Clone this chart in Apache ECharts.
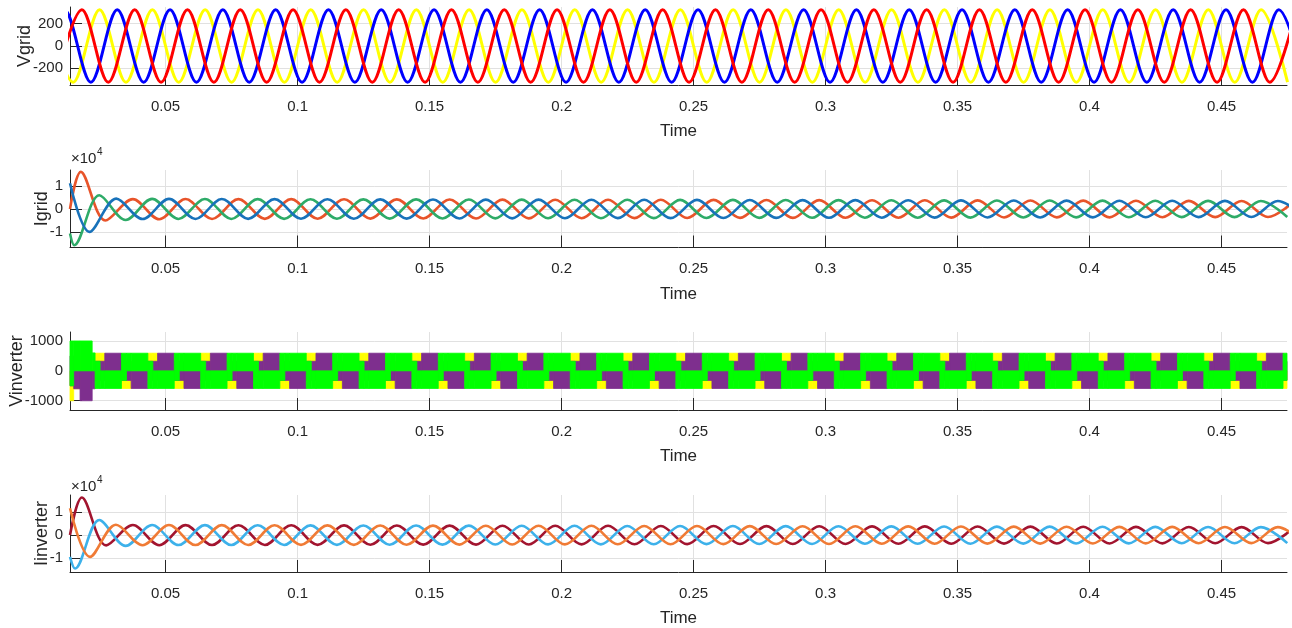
<!DOCTYPE html>
<html><head><meta charset="utf-8">
<script src="https://cdn.jsdelivr.net/npm/echarts@6.0.0/dist/echarts.min.js"></script>
<style>html,body{margin:0;padding:0;background:#fff;}#chart{width:1292px;height:628px;}</style>
</head><body><div id="chart"></div>
<script>
// ---------- axes ----------
const timeRange = [0.0138, 0.4748];
const timeTicks = [0.05,0.1,0.15,0.2,0.25,0.3,0.35,0.4,0.45];
const timeTickLabels = ['0.05','0.1','0.15','0.2','0.25','0.3','0.35','0.4','0.45'];
const panelNames = ['Vgrid','Igrid','Vinverter','Iinverter'];
const yRanges = [[-350,350],[-16800,17000],[-1310,1300],[-16100,17500]];
const yTicks = [[-200,0,200],[-10000,0,10000],[-1000,0,1000],[-10000,0,10000]];
const yTickLabels = [['-200','0','200'],['-1','0','1'],['-1000','0','1000'],['-1','0','1']];
const expLabel = '\u00d710';
const expPower = '4';

// ---------- Vgrid (extrema of each phase) ----------
const vgridYellowT = [0.005,0.015,0.025,0.035,0.045,0.055,0.065,0.075,0.085,0.095,
0.105,0.115,0.125,0.135,0.145,0.155,0.165,0.175,0.185,0.195,
0.205,0.215,0.225,0.235,0.245,0.255,0.265,0.275,0.285,0.295,
0.305,0.315,0.325,0.335,0.345,0.355,0.365,0.375,0.385,0.395,
0.405,0.415,0.425,0.435,0.445,0.455,0.465,0.475];
const vgridYellowV = [325,-325,325,-325,325,-325,325,-325,325,-325,
325,-325,325,-325,325,-325,325,-325,325,-325,
325,-325,325,-325,325,-325,325,-325,325,-325,
325,-325,325,-325,325,-325,325,-325,325,-325,
325,-325,325,-325,325,-325,325,-325];
const vgridBlueT = [0.0017,0.0117,0.0217,0.0317,0.0417,0.0517,0.0617,0.0717,0.0817,0.0917,
0.1017,0.1117,0.1217,0.1317,0.1417,0.1517,0.1617,0.1717,0.1817,0.1917,
0.2017,0.2117,0.2217,0.2317,0.2417,0.2517,0.2617,0.2717,0.2817,0.2917,
0.3017,0.3117,0.3217,0.3317,0.3417,0.3517,0.3617,0.3717,0.3817,0.3917,
0.4017,0.4117,0.4217,0.4317,0.4417,0.4517,0.4617,0.4717,0.4817];
const vgridBlueV = [-325,325,-325,325,-325,325,-325,325,-325,325,
-325,325,-325,325,-325,325,-325,325,-325,325,
-325,325,-325,325,-325,325,-325,325,-325,325,
-325,325,-325,325,-325,325,-325,325,-325,325,
-325,325,-325,325,-325,325,-325,325,-325];
const vgridRedT = [0.0083,0.0183,0.0283,0.0383,0.0483,0.0583,0.0683,0.0783,0.0883,0.0983,
0.1083,0.1183,0.1283,0.1383,0.1483,0.1583,0.1683,0.1783,0.1883,0.1983,
0.2083,0.2183,0.2283,0.2383,0.2483,0.2583,0.2683,0.2783,0.2883,0.2983,
0.3083,0.3183,0.3283,0.3383,0.3483,0.3583,0.3683,0.3783,0.3883,0.3983,
0.4083,0.4183,0.4283,0.4383,0.4483,0.4583,0.4683,0.4783];
const vgridRedV = [-325,325,-325,325,-325,325,-325,325,-325,325,
-325,325,-325,325,-325,325,-325,325,-325,325,
-325,325,-325,325,-325,325,-325,325,-325,325,
-325,325,-325,325,-325,325,-325,325,-325,325,
-325,325,-325,325,-325,325,-325,325];

// ---------- Igrid (start, transient extrema, slowly shrinking steady extrema) ----------
const igridRedT = [0.0138,0.0179,0.0272,0.0376,0.0476,0.0576,0.0676,0.0776,0.0876,0.0976,
0.1076,0.1176,0.1276,0.1376,0.1476,0.1576,0.1676,0.1776,0.1876,0.1976,
0.2076,0.2176,0.2276,0.2376,0.2476,0.2576,0.2676,0.2776,0.2876,0.2976,
0.3076,0.3176,0.3276,0.3376,0.3476,0.3576,0.3676,0.3776,0.3876,0.3976,
0.4076,0.4176,0.4276,0.4376,0.4476,0.4576,0.4676,0.4776];
const igridRedV = [0,16200,-5000,4300,-4500,4350,-4350,4300,-4300,4300,
-4250,4250,-4200,4200,-4150,4150,-4150,4100,-4100,4050,
-4050,4050,-4000,4000,-3950,3950,-3900,3900,-3900,3850,
-3850,3800,-3800,3800,-3750,3750,-3700,3700,-3650,3650,
-3650,3600,-3600,3550,-3550,3500,-3500,3500];
const igridBlueT = [0.0138,0.0212,0.0313,0.0413,0.0513,0.0613,0.0713,0.0813,0.0913,0.1013,
0.1113,0.1213,0.1313,0.1413,0.1513,0.1613,0.1713,0.1813,0.1913,0.2013,
0.2113,0.2213,0.2313,0.2413,0.2513,0.2613,0.2713,0.2813,0.2913,0.3013,
0.3113,0.3213,0.3313,0.3413,0.3513,0.3613,0.3713,0.3813,0.3913,0.4013,
0.4113,0.4213,0.4313,0.4413,0.4513,0.4613,0.4713,0.4813];
const igridBlueV = [11200,-10000,4500,-4400,4400,-4350,4350,-4300,4300,-4250,
4250,-4250,4200,-4200,4150,-4150,4100,-4100,4100,-4050,
4050,-4000,4000,-4000,3950,-3950,3900,-3900,3850,-3850,
3850,-3800,3800,-3750,3750,-3700,3700,-3700,3650,-3650,
3600,-3600,3600,-3550,3550,-3500,3500,-3450];
const igridGreenT = [0.0138,0.0154,0.0249,0.0349,0.0449,0.0549,0.0649,0.0749,0.0849,0.0949,
0.1049,0.1149,0.1249,0.1349,0.1449,0.1549,0.1649,0.1749,0.1849,0.1949,
0.2049,0.2149,0.2249,0.2349,0.2449,0.2549,0.2649,0.2749,0.2849,0.2949,
0.3049,0.3149,0.3249,0.3349,0.3449,0.3549,0.3649,0.3749,0.3849,0.3949,
0.4049,0.4149,0.4249,0.4349,0.4449,0.4549,0.4649,0.4749];
const igridGreenV = [-10700,-15800,6000,-4800,4400,-4350,4350,-4350,4300,-4300,
4250,-4250,4200,-4200,4200,-4150,4150,-4100,4100,-4050,
4050,-4050,4000,-4000,3950,-3950,3950,-3900,3900,-3850,
3850,-3800,3800,-3800,3750,-3750,3700,-3700,3700,-3650,
3650,-3600,3600,-3550,3550,-3550,3500,-3500];

// ---------- Iinverter ----------
const iinvDarkRedT = [0.0138,0.0183,0.0275,0.0376,0.0476,0.0576,0.0676,0.0776,0.0876,0.0976,
0.1076,0.1176,0.1276,0.1376,0.1476,0.1576,0.1676,0.1776,0.1876,0.1976,
0.2076,0.2176,0.2276,0.2376,0.2476,0.2576,0.2676,0.2776,0.2876,0.2976,
0.3076,0.3176,0.3276,0.3376,0.3476,0.3576,0.3676,0.3776,0.3876,0.3976,
0.4076,0.4176,0.4276,0.4376,0.4476,0.4576,0.4676,0.4776];
const iinvDarkRedV = [0,16400,-4500,4400,-4400,4350,-4350,4300,-4300,4300,
-4250,4250,-4200,4200,-4150,4150,-4150,4100,-4100,4050,
-4050,4050,-4000,4000,-3950,3950,-3900,3900,-3900,3850,
-3850,3800,-3800,3800,-3750,3750,-3700,3700,-3650,3650,
-3650,3600,-3600,3550,-3550,3500,-3500,3500];
const iinvOrangeT = [0.0138,0.0214,0.0312,0.0413,0.0513,0.0613,0.0713,0.0813,0.0913,0.1013,
0.1113,0.1213,0.1313,0.1413,0.1513,0.1613,0.1713,0.1813,0.1913,0.2013,
0.2113,0.2213,0.2313,0.2413,0.2513,0.2613,0.2713,0.2813,0.2913,0.3013,
0.3113,0.3213,0.3313,0.3413,0.3513,0.3613,0.3713,0.3813,0.3913,0.4013,
0.4113,0.4213,0.4313,0.4413,0.4513,0.4613,0.4713,0.4813];
const iinvOrangeV = [11700,-9500,4500,-4400,4400,-4350,4350,-4300,4300,-4250,
4250,-4250,4200,-4200,4150,-4150,4100,-4100,4100,-4050,
4050,-4000,4000,-4000,3950,-3950,3900,-3900,3850,-3850,
3850,-3800,3800,-3750,3750,-3700,3700,-3700,3650,-3650,
3600,-3600,3600,-3550,3550,-3500,3500,-3450];
const iinvLightBlueT = [0.0138,0.0157,0.0249,0.0349,0.0449,0.0549,0.0649,0.0749,0.0849,0.0949,
0.1049,0.1149,0.1249,0.1349,0.1449,0.1549,0.1649,0.1749,0.1849,0.1949,
0.2049,0.2149,0.2249,0.2349,0.2449,0.2549,0.2649,0.2749,0.2849,0.2949,
0.3049,0.3149,0.3249,0.3349,0.3449,0.3549,0.3649,0.3749,0.3849,0.3949,
0.4049,0.4149,0.4249,0.4349,0.4449,0.4549,0.4649,0.4749];
const iinvLightBlueV = [-9500,-14600,6600,-4700,4400,-4350,4350,-4350,4300,-4300,
4250,-4250,4200,-4200,4200,-4150,4150,-4100,4100,-4050,
4050,-4050,4000,-4000,3950,-3950,3950,-3900,3900,-3850,
3850,-3800,3800,-3800,3750,-3750,3700,-3700,3700,-3650,
3650,-3600,3600,-3550,3550,-3550,3500,-3500];

// ---------- Vinverter: switching band (lo..hi) of each phase between pattern boundaries ----------
const vinvT = [0.0138,0.0152,0.0176,0.0222,
0.0233,0.0252,0.02697,0.0333,0.0352,0.03697, 0.0433,0.0452,0.04697,0.0533,0.0552,0.05697,
0.0633,0.0652,0.06697,0.0733,0.0752,0.07697, 0.0833,0.0852,0.08697,0.0933,0.0952,0.09697,
0.1033,0.1052,0.10697,0.1133,0.1152,0.11697, 0.1233,0.1252,0.12697,0.1333,0.1352,0.13697,
0.1433,0.1452,0.14697,0.1533,0.1552,0.15697, 0.1633,0.1652,0.16697,0.1733,0.1752,0.17697,
0.1833,0.1852,0.18697,0.1933,0.1952,0.19697, 0.2033,0.2052,0.20697,0.2133,0.2152,0.21697,
0.2233,0.2252,0.22697,0.2333,0.2352,0.23697, 0.2433,0.2452,0.24697,0.2533,0.2552,0.25697,
0.2633,0.2652,0.26697,0.2733,0.2752,0.27697, 0.2833,0.2852,0.28697,0.2933,0.2952,0.29697,
0.3033,0.3052,0.30697,0.3133,0.3152,0.31697, 0.3233,0.3252,0.32697,0.3333,0.3352,0.33697,
0.3433,0.3452,0.34697,0.3533,0.3552,0.35697, 0.3633,0.3652,0.36697,0.3733,0.3752,0.37697,
0.3833,0.3852,0.38697,0.3933,0.3952,0.39697, 0.4033,0.4052,0.40697,0.4133,0.4152,0.41697,
0.4233,0.4252,0.42697,0.4333,0.4352,0.43697, 0.4433,0.4452,0.44697,0.4533,0.4552,0.45697,
0.4633,0.4652,0.46697,0.4733,0.4748];
const vinvYellowHi = [0,0,500,320,
590,590,320,0,0,320, 590,590,320,0,0,320, 590,590,320,0,0,320, 590,590,320,0,0,320,
590,590,320,0,0,320, 590,590,320,0,0,320, 590,590,320,0,0,320, 590,590,320,0,0,320,
590,590,320,0,0,320, 590,590,320,0,0,320, 590,590,320,0,0,320, 590,590,320,0,0,320,
590,590,320,0,0,320, 590,590,320,0,0,320, 590,590,320,0,0,320, 590,590,320,0,0,320,
590,590,320,0,0,320, 590,590,320,0,0,320, 590,590,320,0,0,320, 590,590,320,0,0,320,
590,590,320,0,0,320, 590,590,320,0,0,320,
590,590,320,0];
const vinvYellowLo = [-1000,-600,-500,-320,
0,0,-320,-590,-590,-320, 0,0,-320,-590,-590,-320, 0,0,-320,-590,-590,-320, 0,0,-320,-590,-590,-320,
0,0,-320,-590,-590,-320, 0,0,-320,-590,-590,-320, 0,0,-320,-590,-590,-320, 0,0,-320,-590,-590,-320,
0,0,-320,-590,-590,-320, 0,0,-320,-590,-590,-320, 0,0,-320,-590,-590,-320, 0,0,-320,-590,-590,-320,
0,0,-320,-590,-590,-320, 0,0,-320,-590,-590,-320, 0,0,-320,-590,-590,-320, 0,0,-320,-590,-590,-320,
0,0,-320,-590,-590,-320, 0,0,-320,-590,-590,-320, 0,0,-320,-590,-590,-320, 0,0,-320,-590,-590,-320,
0,0,-320,-590,-590,-320, 0,0,-320,-590,-590,-320,
0,0,-320,-590];
const vinvPurpleHi = [500,0,0,0,
320,320,590,320,320,0, 320,320,590,320,320,0, 320,320,590,320,320,0, 320,320,590,320,320,0,
320,320,590,320,320,0, 320,320,590,320,320,0, 320,320,590,320,320,0, 320,320,590,320,320,0,
320,320,590,320,320,0, 320,320,590,320,320,0, 320,320,590,320,320,0, 320,320,590,320,320,0,
320,320,590,320,320,0, 320,320,590,320,320,0, 320,320,590,320,320,0, 320,320,590,320,320,0,
320,320,590,320,320,0, 320,320,590,320,320,0, 320,320,590,320,320,0, 320,320,590,320,320,0,
320,320,590,320,320,0, 320,320,590,320,320,0,
320,320,590,320];
const vinvPurpleLo = [-500,-600,-1000,-600,
-320,-320,0,-320,-320,-590, -320,-320,0,-320,-320,-590, -320,-320,0,-320,-320,-590, -320,-320,0,-320,-320,-590,
-320,-320,0,-320,-320,-590, -320,-320,0,-320,-320,-590, -320,-320,0,-320,-320,-590, -320,-320,0,-320,-320,-590,
-320,-320,0,-320,-320,-590, -320,-320,0,-320,-320,-590, -320,-320,0,-320,-320,-590, -320,-320,0,-320,-320,-590,
-320,-320,0,-320,-320,-590, -320,-320,0,-320,-320,-590, -320,-320,0,-320,-320,-590, -320,-320,0,-320,-320,-590,
-320,-320,0,-320,-320,-590, -320,-320,0,-320,-320,-590, -320,-320,0,-320,-320,-590, -320,-320,0,-320,-320,-590,
-320,-320,0,-320,-320,-590, -320,-320,0,-320,-320,-590,
-320,-320,0,-320];
const vinvGreenHi = [1000,1000,1000,600,
320,0,0,590,590,590, 320,0,0,590,590,590, 320,0,0,590,590,590, 320,0,0,590,590,590,
320,0,0,590,590,590, 320,0,0,590,590,590, 320,0,0,590,590,590, 320,0,0,590,590,590,
320,0,0,590,590,590, 320,0,0,590,590,590, 320,0,0,590,590,590, 320,0,0,590,590,590,
320,0,0,590,590,590, 320,0,0,590,590,590, 320,0,0,590,590,590, 320,0,0,590,590,590,
320,0,0,590,590,590, 320,0,0,590,590,590, 320,0,0,590,590,590, 320,0,0,590,590,590,
320,0,0,590,590,590, 320,0,0,590,590,590,
320,0,0,590];
const vinvGreenLo = [-500,0,0,0,
-590,-590,-590,-320,0,0, -590,-590,-590,-320,0,0, -590,-590,-590,-320,0,0, -590,-590,-590,-320,0,0,
-590,-590,-590,-320,0,0, -590,-590,-590,-320,0,0, -590,-590,-590,-320,0,0, -590,-590,-590,-320,0,0,
-590,-590,-590,-320,0,0, -590,-590,-590,-320,0,0, -590,-590,-590,-320,0,0, -590,-590,-590,-320,0,0,
-590,-590,-590,-320,0,0, -590,-590,-590,-320,0,0, -590,-590,-590,-320,0,0, -590,-590,-590,-320,0,0,
-590,-590,-590,-320,0,0, -590,-590,-590,-320,0,0, -590,-590,-590,-320,0,0, -590,-590,-590,-320,0,0,
-590,-590,-590,-320,0,0, -590,-590,-590,-320,0,0,
-590,-590,-590,-320];

// ---------- build ----------
const AXIS_COLOR = '#262626';
const GRID_COLOR = '#e1e1e1';
const FONT = 'Liberation Sans, Arial, Helvetica, sans-serif';
const gridBoxes = [
  {left:70, top:7, width:1217, height:78},
  {left:70, top:170, width:1217, height:77.5},
  {left:70, top:332, width:1217, height:78},
  {left:70, top:495, width:1217, height:77}
];
const yNameGaps = [36, 19, 44, 19];

function pairs(t, v){ return t.map((x,i)=>[x, v[i]]); }

const grids = gridBoxes.map(g=>Object.assign({containLabel:false, outerBoundsMode:'none'}, g));
const xAxes = gridBoxes.map((g,i)=>({
  type:'value', gridIndex:i, min:timeRange[0], max:timeRange[1],
  name:'Time', nameLocation:'middle', nameGap:38, nameMoveOverlap:false,
  nameTextStyle:{fontSize:17, color:AXIS_COLOR, fontFamily:FONT},
  axisLine:{show:true, onZero:false, lineStyle:{color:AXIS_COLOR, width:1}},
  axisTick:{show:true, inside:true, length:12, customValues:timeTicks, lineStyle:{color:AXIS_COLOR}},
  axisLabel:{show:true, customValues:timeTicks, margin:14, fontSize:15, color:AXIS_COLOR, fontFamily:FONT,
    formatter:(v)=>{const k=timeTicks.findIndex(t=>Math.abs(t-v)<1e-9); return k>=0?timeTickLabels[k]:'';}},
  splitLine:{show:true, lineStyle:{color:GRID_COLOR, width:1}}
}));
const yAxes = gridBoxes.map((g,i)=>({
  type:'value', gridIndex:i, min:yRanges[i][0], max:yRanges[i][1],
  name:panelNames[i], nameLocation:'middle', nameGap:yNameGaps[i], nameMoveOverlap:false,
  nameTextStyle:{fontSize:18, color:AXIS_COLOR, fontFamily:FONT},
  axisLine:{show:true, onZero:false, lineStyle:{color:AXIS_COLOR, width:1}},
  axisTick:{show:true, inside:true, length:12, customValues:yTicks[i], lineStyle:{color:AXIS_COLOR}},
  axisLabel:{show:true, customValues:yTicks[i], margin:7, fontSize:15, color:AXIS_COLOR, fontFamily:FONT,
    formatter:(v)=>{const k=yTicks[i].findIndex(t=>Math.abs(t-v)<1e-6); return k>=0?yTickLabels[i][k]:'';}},
  splitLine:{show:true, lineStyle:{color:GRID_COLOR, width:1}}
}));

function lineSeries(panel, t, v, color, width){
  return {type:'line', xAxisIndex:panel, yAxisIndex:panel, data:pairs(t,v), smooth:1/3,
    showSymbol:false, symbol:'none', clip:true, lineStyle:{color:color, width:width}, itemStyle:{color:color},
    silent:true, animation:false};
}
function bandSeries(panel, lo, hi, color){
  const data = lo.map((l,i)=>[vinvT[i], vinvT[i+1], l, hi[i]]);
  return {type:'custom', xAxisIndex:panel, yAxisIndex:panel, data:data, silent:true, animation:false,
    encode:{x:[0,1], y:[2,3]},
    renderItem:(params, api)=>{
      const p0 = api.coord([api.value(0), api.value(3)]);
      const p1 = api.coord([api.value(1), api.value(2)]);
      const cs = params.coordSys;
      const r = echarts.graphic.clipRectByRect(
        {x:p0[0], y:p0[1], width:p1[0]-p0[0], height:p1[1]-p0[1]},
        {x:cs.x, y:cs.y, width:cs.width, height:cs.height});
      if(!r) return null;
      return {type:'rect', shape:r, style:{fill:color, stroke:color, lineWidth:0.8}};
    }};
}

const series = [
  lineSeries(0, vgridYellowT, vgridYellowV, '#ffff00', 3),
  lineSeries(0, vgridBlueT, vgridBlueV, '#0000ff', 3),
  lineSeries(0, vgridRedT, vgridRedV, '#ff0000', 3),
  lineSeries(1, igridRedT, igridRedV, '#e8542a', 2.6),
  lineSeries(1, igridGreenT, igridGreenV, '#2eab68', 2.6),
  lineSeries(1, igridBlueT, igridBlueV, '#1872ba', 2.6),
  bandSeries(2, vinvYellowLo, vinvYellowHi, '#ffff00'),
  bandSeries(2, vinvPurpleLo, vinvPurpleHi, '#7e2f8e'),
  bandSeries(2, vinvGreenLo, vinvGreenHi, '#00ff00'),
  lineSeries(3, iinvDarkRedT, iinvDarkRedV, '#a2142f', 2.6),
  lineSeries(3, iinvLightBlueT, iinvLightBlueV, '#3db1ea', 2.6),
  lineSeries(3, iinvOrangeT, iinvOrangeV, '#f07b35', 2.6)
];

const graphics = [
  {type:'text', left:71, top:151, style:{text:expLabel, fontSize:15, fill:AXIS_COLOR, fontFamily:FONT}},
  {type:'text', left:97, top:147, style:{text:expPower, fontSize:10, fill:AXIS_COLOR, fontFamily:FONT}},
  {type:'text', left:71, top:479, style:{text:expLabel, fontSize:15, fill:AXIS_COLOR, fontFamily:FONT}},
  {type:'text', left:97, top:475, style:{text:expPower, fontSize:10, fill:AXIS_COLOR, fontFamily:FONT}}
];

const chart = echarts.init(document.getElementById('chart'), null, {renderer:'canvas'});
chart.setOption({animation:false, backgroundColor:'#ffffff', grid:grids, xAxis:xAxes, yAxis:yAxes, series:series, graphic:graphics});
</script></body></html>
